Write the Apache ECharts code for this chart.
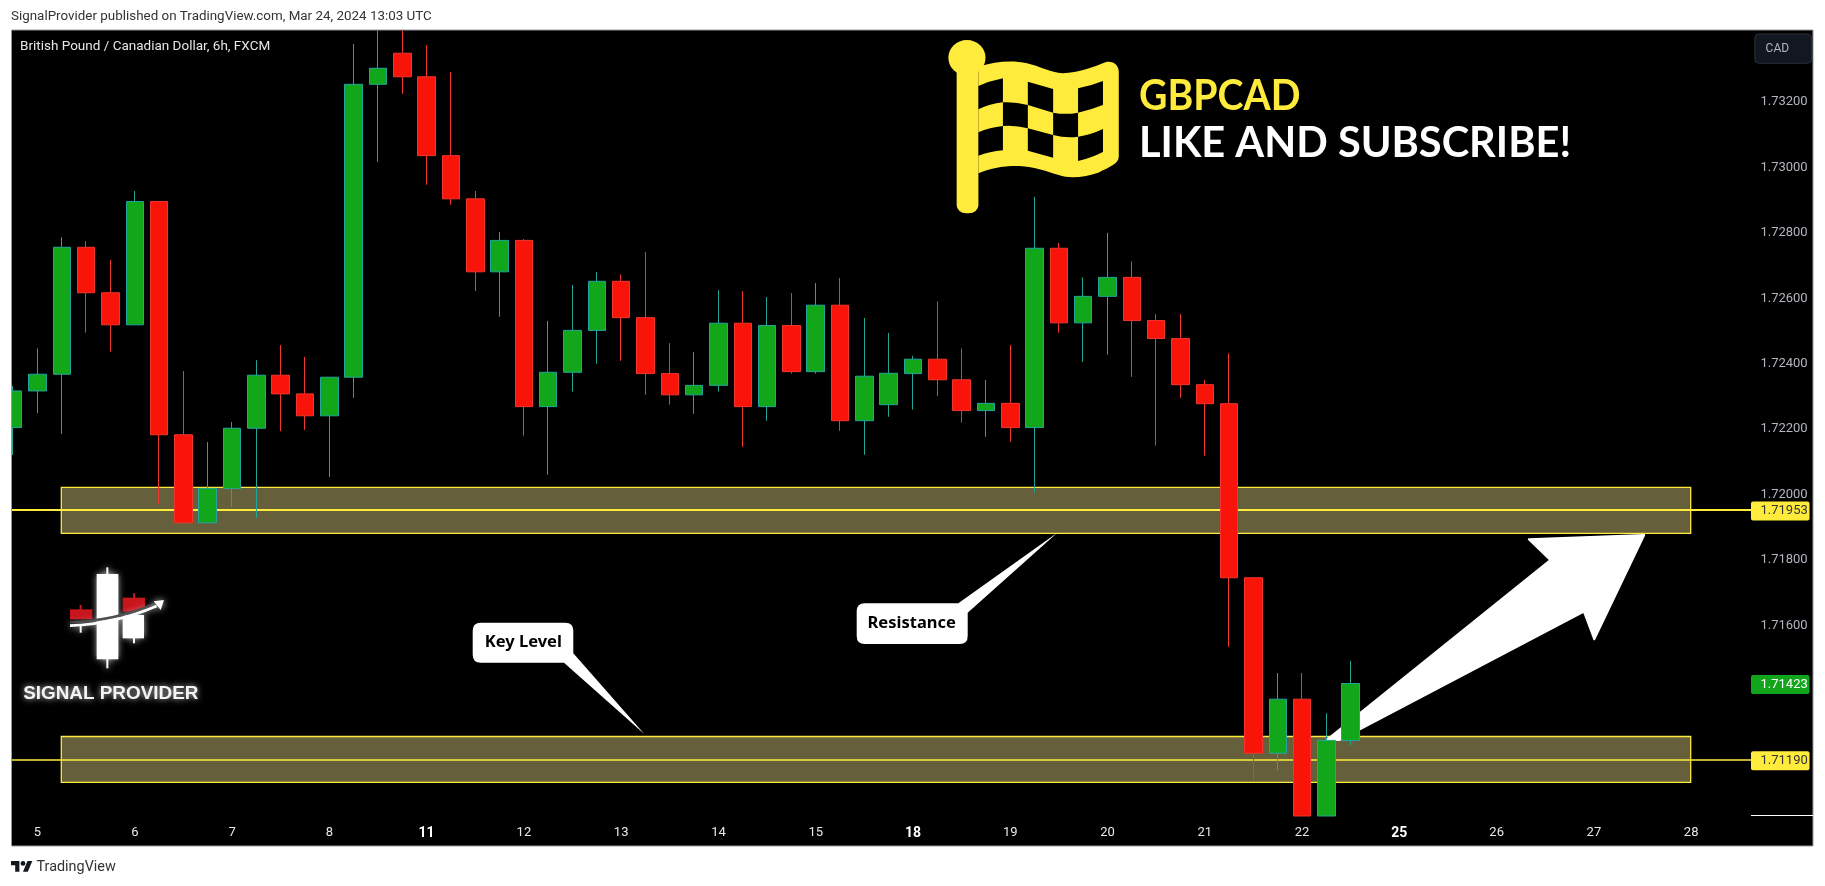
<!DOCTYPE html>
<html>
<head>
<meta charset="utf-8">
<style>html,body{margin:0;padding:0;background:#fff}#c{width:1825px;height:886px}</style>
<script src="https://cdn.jsdelivr.net/npm/echarts@6/dist/echarts.min.js"></script>
</head>
<body>
<div id="c"></div>
<script>
const dayTicks = [1,5,9,13,17,21,25,29,33,37,41,45,49,53,57,61,65,69];
const dayLabels = ['5','6','7','8','11','12','13','14','15','18','19','20','21','22','25','26','27','28'];
const boldDays = ['11','18','25'];
const priceTicks = [1.714,1.716,1.718,1.72,1.722,1.724,1.726,1.728,1.73,1.732];
const opens = [1.72205,1.72317,1.72368,1.72756,1.72617,1.72519,1.72896,1.72183,1.71914,1.72019,1.72203,1.72365,1.72308,1.72241,1.72359,1.73254,1.73349,1.73277,1.73036,1.72904,1.72681,1.72777,1.72269,1.72374,1.72502,1.72652,1.72541,1.7237,1.72305,1.72334,1.72524,1.72269,1.72517,1.72376,1.72579,1.72226,1.72275,1.7237,1.72414,1.72351,1.72257,1.72279,1.72205,1.72753,1.72525,1.72606,1.72664,1.72532,1.72477,1.72336,1.72278,1.71746,1.7121,1.71375,1.71018,1.71249];
const closes = [1.72317,1.72368,1.72756,1.72617,1.72519,1.72896,1.72183,1.71914,1.72019,1.72203,1.72365,1.72308,1.72241,1.72359,1.73254,1.73303,1.73277,1.73036,1.72904,1.72681,1.72777,1.72269,1.72374,1.72502,1.72652,1.72541,1.7237,1.72305,1.72334,1.72524,1.72269,1.72517,1.72376,1.72579,1.72226,1.72362,1.72371,1.72414,1.72351,1.72257,1.72279,1.72205,1.72753,1.72525,1.72606,1.72664,1.72532,1.72477,1.72336,1.72278,1.71746,1.7121,1.71375,1.71018,1.71249,1.71423];
const lows = [1.72121,1.72249,1.72186,1.72495,1.72437,1.72519,1.71972,1.71914,1.71914,1.71962,1.71929,1.72194,1.72198,1.72054,1.72296,1.73017,1.73225,1.72947,1.72886,1.72622,1.72544,1.7218,1.72061,1.72315,1.724,1.72409,1.72305,1.72275,1.72247,1.72315,1.72146,1.72226,1.7237,1.7237,1.72195,1.72122,1.72238,1.7226,1.72302,1.7222,1.72177,1.72162,1.72006,1.72495,1.72406,1.72428,1.7236,1.7215,1.72296,1.72119,1.71535,1.71123,1.71156,1.71018,1.71018,1.71235];
const highs = [1.72332,1.72447,1.72787,1.72775,1.72717,1.72928,1.72896,1.72378,1.72161,1.72222,1.72411,1.72457,1.72421,1.72359,1.73377,1.73418,1.73418,1.73374,1.73292,1.72928,1.72803,1.72781,1.72531,1.72641,1.7268,1.72673,1.72741,1.72463,1.72436,1.72625,1.72622,1.72604,1.72616,1.72647,1.72662,1.7254,1.72494,1.72424,1.72591,1.72447,1.7235,1.72457,1.7291,1.72769,1.72664,1.728,1.72713,1.72552,1.72552,1.7235,1.72432,1.71746,1.71455,1.71455,1.71332,1.71492];
const levelUpper = 1.71953;
const levelLower = 1.7119;
const lastPrice = 1.71423;
const zoneUpper = [1.72022,1.71882];
const zoneLower = [1.71261,1.71121];
const zoneStart = 1.978, zoneEnd = 68.98;

const candles = opens.map((o,i)=>[i,o,closes[i],lows[i],highs[i]]);
const UI = 'Roboto, sans-serif';
const YEL = '#FFEB3B';
let shapeCount = 0;
function pathEl(d, style, z){
  const name = 'annot' + (shapeCount++);
  echarts.graphic.registerShape(name, echarts.graphic.extendPath(d, {}));
  return {type:name, z:z, style:style};
}
function tag(value,bg,fg,lineW){
  return {yAxis:value,lineStyle:{color:lineW?bg:'rgba(0,0,0,0)',width:lineW||1,opacity:1,type:'solid'},
    label:{show:true,position:'end',distance:0,offset:[0,1],formatter:value.toFixed(5),backgroundColor:bg,color:fg,opacity:1,
      fontFamily:UI,fontSize:13,align:'left',width:49,height:19,lineHeight:19,padding:[0,0,0,9.5],borderRadius:2}};
}
const flagCells = ['M957 258Q985 243 1019 235L1019 307Q985 312 957 328Z','M1082 245L1146 267L1146 338L1082 315Z','M1209 265Q1240 258 1272 243L1272 315Q1240 330 1209 338Z',
 'M1019 307Q1050 305 1082 315L1082 385Q1050 375 1019 378Z','M1146 338Q1178 345 1209 338L1209 410Q1178 415 1146 405Z',
 'M957 397Q985 382 1019 378L1019 451Q985 455 957 467Z','M1082 385L1146 405L1146 473L1082 452Z','M1209 410Q1240 405 1272 387L1272 456Q1240 475 1209 483Z'];
const glow = {shadowBlur:7,shadowColor:'rgba(255,255,255,.85)'};
function logoRect(x,y,w,h,fill){return {type:'rect',z:6,shape:{x,y,width:w,height:h},style:Object.assign({fill},fill==='#fff'?glow:{})};}

const graphic = [
 {type:'rect',z:-10,shape:{x:11.5,y:30,width:1801.5,height:816},style:{fill:'#000',stroke:'#9598a1',lineWidth:1}},
 {type:'line',z:-9,shape:{x1:1751,y1:815.5,x2:1813,y2:815.5},style:{stroke:'#fff',lineWidth:1}},
 // left edge: the first candle is cut off by the pane border
 {type:'rect',z:15,shape:{x:0,y:30,width:11,height:817},style:{fill:'#fff'}},
 {type:'line',z:15,shape:{x1:11.5,y1:30,x2:11.5,y2:846},style:{stroke:'#9598a1',lineWidth:1}},
 {type:'text',z:20,style:{text:'SignalProvider published on TradingView.com, Mar 24, 2024 13:03 UTC',x:11,y:16.7,font:'13.4px '+UI,fill:'#333',textVerticalAlign:'middle'}},
 {type:'text',z:20,style:{text:'British Pound / Canadian Dollar, 6h, FXCM',x:20,y:46.7,font:'13.5px '+UI,fill:'#e6e6e6',textVerticalAlign:'middle'}},
 {type:'rect',z:20,shape:{x:1754.8,y:34,width:56.8,height:29.3,r:4},style:{fill:'#131722',stroke:'#2a2e39',lineWidth:1}},
 {type:'text',z:21,style:{text:'CAD',x:1765.6,y:48.7,font:'12px '+UI,fill:'#b2b5be',textVerticalAlign:'middle'}},
 // flag
 {type:'group',x:600,y:0,scaleX:1/2.529,scaleY:1/3,children:[
   {type:'ellipse',z:20,shape:{cx:928,cy:173,rx:47,ry:53},style:{fill:YEL}},
   {type:'rect',z:20,shape:{x:902,y:170,width:55,height:470,r:[0,0,24,24]},style:{fill:YEL}},
   pathEl('M957 200C1000 185 1040 180 1080 190C1110 198 1140 218 1170 220C1210 218 1250 200 1280 186C1300 182 1312 198 1312 215L1312 470C1312 490 1290 500 1260 518C1230 530 1190 538 1160 525C1130 515 1100 500 1060 498C1020 497 985 505 957 520Z',{fill:YEL},20),
 ].concat(flagCells.map(d=>pathEl(d,{fill:'#000'},21)))},
 {type:'text',z:20,x:1139,y:96,scaleX:.934,style:{text:'GBPCAD',x:0,y:0,font:'bold 42px Lato, sans-serif',fill:YEL,textVerticalAlign:'middle'}},
 {type:'text',z:20,x:1139,y:143,scaleX:.989,style:{text:'LIKE AND SUBSCRIBE!',x:0,y:0,font:'bold 42px Lato, sans-serif',fill:'#fff',textVerticalAlign:'middle'}},
 // logo
 {type:'group',x:15,y:560,scaleX:1/3,scaleY:1/3,children:[
   logoRect(274,22,6,303,'#fff'),logoRect(245,42,65,256,'#fff'),
   logoRect(194,135,6,20,'#c8161d'),logoRect(165,148,67,30,'#c8161d'),logoRect(194,197,6,21,'#fff'),
   logoRect(354,100,6,20,'#c8161d'),logoRect(323,165,64,70,'#fff'),logoRect(354,230,6,20,'#fff'),logoRect(323,113,67,42,'#c8161d'),
   pathEl('M165 186Q300 183 420 131',{fill:'none',stroke:'#2a2a2e',lineWidth:8},6),
   pathEl('M165 197Q300 192 425 138',Object.assign({fill:'none',stroke:'#fff',lineWidth:8},glow),6),
   {type:'polygon',z:6,shape:{points:[[447,120],[416,124],[437,150]]},style:Object.assign({fill:'#fff'},glow)},
 ]},
 {type:'text',z:6,style:{text:'SIGNAL PROVIDER',x:110.8,y:693.5,font:'bold 18.9px "Liberation Sans", Arial, sans-serif',fill:'#f4f4f4',textAlign:'center',textVerticalAlign:'middle',textShadowBlur:6,textShadowColor:'rgba(255,255,255,.8)'}},
 // callouts
 pathEl('M480.7 622.7L565.3 622.7Q573.3 622.7 573.3 630.7L573.3 653.3L644.3 734L564 662.7L480.7 662.7Q472.7 662.7 472.7 654.7L472.7 630.7Q472.7 622.7 480.7 622.7Z',{fill:'#fff'},6),
 {type:'text',z:7,style:{text:'Key Level',x:523.3,y:642.5,font:'bold 16.5px "Noto Sans", sans-serif',fill:'#000',textAlign:'center',textVerticalAlign:'middle'}},
 pathEl('M864.7 603.3L958.3 603.3L1057.3 532.7L967.7 612.7L967.7 636Q967.7 644 959.7 644L864.7 644Q856.7 644 856.7 636L856.7 611.3Q856.7 603.3 864.7 603.3Z',{fill:'#fff'},6),
 {type:'text',z:7,style:{text:'Resistance',x:911.7,y:623,font:'bold 16.5px "Noto Sans", sans-serif',fill:'#000',textAlign:'center',textVerticalAlign:'middle'}},
 // arrow
 {type:'polygon',z:6,shape:{points:[[1326.5,740],[1550.3,560],[1528.8,539.3],[1644.2,535],[1594.3,639.3],[1583.9,611.7],[1339.4,740]]},style:{fill:'#fff',stroke:'#fff',lineWidth:2,lineJoin:'round'}},
 // footer
 {type:'group',x:11,y:858.6,scaleX:.6,scaleY:.6,children:[
   pathEl('M14 22H7V11H0V4h14v18zM28 22h-8l7.5-18h8L28 22z',{fill:'#131722'},20),
   {type:'circle',z:20,shape:{cx:20,cy:8,r:4},style:{fill:'#131722'}}]},
 {type:'text',z:20,style:{text:'TradingView',x:36.5,y:867.3,font:'14.4px '+UI,fill:'#333',textVerticalAlign:'middle'}},
];

const chart = echarts.init(document.getElementById('c'),null,{renderer:'canvas'});
chart.setOption({
  animation:false,
  backgroundColor:'#fff',
  graphic:{elements:graphic},
  grid:{left:11.5,top:30,width:1739.5,height:786,containLabel:false},
  xAxis:{type:'value',min:-0.0699,max:71.46,splitLine:{show:false},axisLine:{show:false},axisTick:{show:false},
    axisLabel:{customValues:dayTicks,margin:10,
      formatter:v=>{const s=dayLabels[dayTicks.indexOf(v)]||'';return boldDays.includes(s)?'{b|'+s+'}':'{n|'+s+'}';},
      rich:{n:{fontFamily:UI,fontSize:13,color:'#e8e8e8'},b:{fontFamily:UI,fontSize:14,fontWeight:'bold',color:'#fff'}}}},
  yAxis:{type:'value',position:'right',min:1.71018,max:1.7342,scale:true,splitLine:{show:false},axisLine:{show:false},axisTick:{show:false},
    axisLabel:{customValues:priceTicks,margin:9.4,fontFamily:UI,fontSize:13,color:'#b2b5be',padding:[2,0,0,0],formatter:v=>v.toFixed(5)}},
  series:[
    {type:'line',name:'zones',data:[],z:1,silent:true,
      markArea:{silent:true,z:1,itemStyle:{color:'#665F3C',borderColor:YEL,borderWidth:1.3},
        data:[[{xAxis:zoneStart,yAxis:zoneUpper[0]},{xAxis:zoneEnd,yAxis:zoneUpper[1]}],
              [{xAxis:zoneStart,yAxis:zoneLower[0]},{xAxis:zoneEnd,yAxis:zoneLower[1]}]]},
      markLine:{silent:true,z:3,symbol:'none',precision:5,
        data:[tag(levelUpper,YEL,'#333',2),tag(levelLower,YEL,'#333',1.7),tag(lastPrice,'#11A51B','#fff',0)]}},
    {type:'candlestick',name:'GBPCAD',z:10,barWidth:18,clip:true,data:candles,encode:{x:0,y:[1,2,3,4]},
      itemStyle:{color:'#12A71B',color0:'#F9140A',borderColor:'#22A69A',borderColor0:'#F2362E',borderWidth:1}}
  ]
});
</script>
</body>
</html>
